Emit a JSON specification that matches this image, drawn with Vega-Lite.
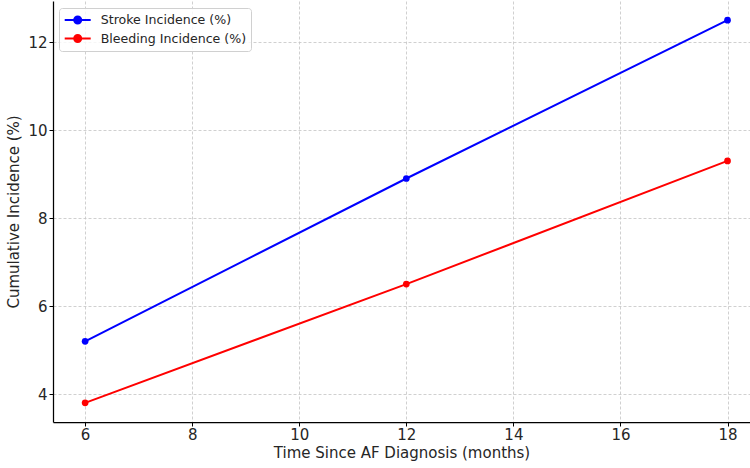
{
  "$schema": "https://vega.github.io/schema/vega-lite/v6.json",
  "width": 697,
  "height": 421,
  "autosize": {"type": "none"},
  "padding": {"left": 53, "top": 1, "right": 0, "bottom": 46},
  "background": "white",
  "config": {
    "view": {"stroke": null},
    "font": "DejaVu Sans",
    "axis": {
      "domainColor": "#000000",
      "domainWidth": 1.25,
      "tickColor": "#000000",
      "tickWidth": 1,
      "tickSize": 4,
      "labelColor": "#262626",
      "labelFontSize": 15,
      "labelFont": "DejaVu Sans",
      "titleFont": "DejaVu Sans",
      "titleFontSize": 15,
      "titleFontWeight": "normal",
      "titleColor": "#262626",
      "gridColor": "#c4c4c4",
      "gridWidth": 0.8,
      "gridDash": [3, 2]
    }
  },
  "data": {
    "values": [
      {"months": 6, "series": "Stroke Incidence (%)", "incidence": 5.2},
      {"months": 12, "series": "Stroke Incidence (%)", "incidence": 8.9},
      {"months": 18, "series": "Stroke Incidence (%)", "incidence": 12.5},
      {"months": 6, "series": "Bleeding Incidence (%)", "incidence": 3.8},
      {"months": 12, "series": "Bleeding Incidence (%)", "incidence": 6.5},
      {"months": 18, "series": "Bleeding Incidence (%)", "incidence": 9.3}
    ]
  },
  "encoding": {
    "x": {
      "field": "months",
      "type": "quantitative",
      "title": "Time Since AF Diagnosis (months)",
      "scale": {"domain": [5.4, 18.42], "nice": false, "zero": false},
      "axis": {"values": [6, 8, 10, 12, 14, 16, 18], "labelPadding": 1, "titlePadding": 3, "labelFlush": false}
    },
    "y": {
      "field": "incidence",
      "type": "quantitative",
      "title": "Cumulative Incidence (%)",
      "scale": {"domain": [3.365, 12.935], "nice": false, "zero": false},
      "axis": {"values": [4, 6, 8, 10, 12], "labelPadding": 2, "titlePadding": 6}
    },
    "color": {
      "field": "series",
      "type": "nominal",
      "scale": {
        "domain": ["Stroke Incidence (%)", "Bleeding Incidence (%)"],
        "range": ["#0000ff", "#ff0000"]
      },
      "legend": {
        "title": null,
        "orient": "none",
        "legendX": 6,
        "legendY": 7,
        "padding": 4.5,
        "rowPadding": 1.5,
        "labelFontSize": 12.6,
        "labelFont": "DejaVu Sans",
        "labelColor": "#262626",
        "labelOffset": 15.5,
        "symbolOffset": 6.7,
        "symbolType": "M-2,0L2,0M-0.54,0A0.54,0.54 0 1,1 0.54,0A0.54,0.54 0 1,1 -0.54,0Z",
        "symbolSize": 169,
        "symbolStrokeWidth": 2,
        "fillColor": "rgba(255,255,255,0.8)",
        "strokeColor": "#d0d0d0",
        "cornerRadius": 3,
        "encode": {
          "symbols": {"update": {"fill": {"scale": "color", "field": "value"}, "opacity": {"value": 1}}}
        }
      }
    }
  },
  "layer": [
    {"mark": {"type": "line", "strokeWidth": 2}},
    {"mark": {"type": "point", "filled": true, "size": 45, "opacity": 1}}
  ]
}
